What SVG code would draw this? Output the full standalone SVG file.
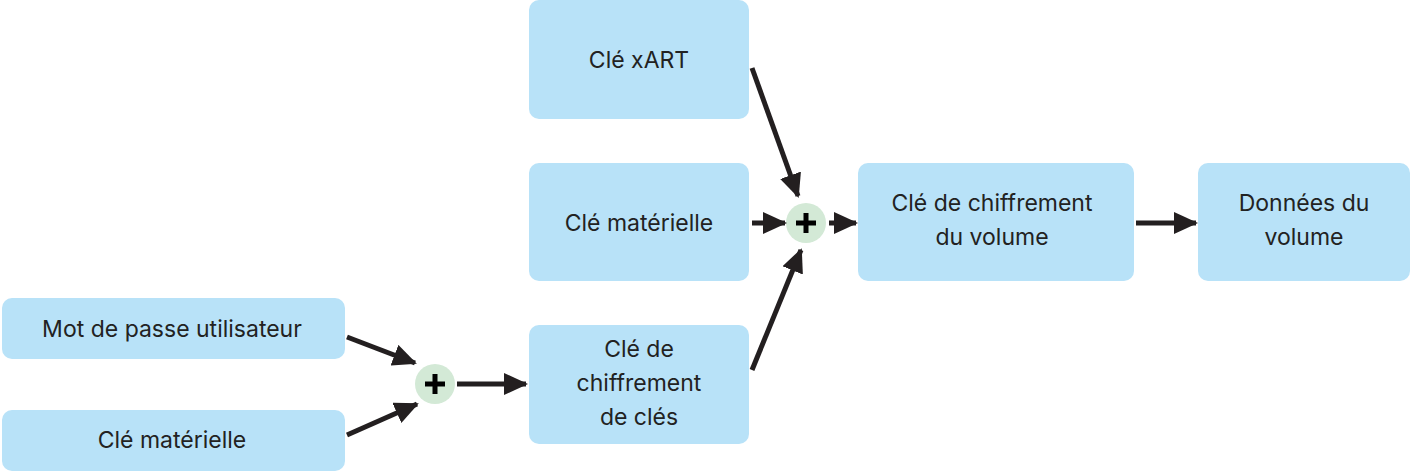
<svg xmlns="http://www.w3.org/2000/svg" width="1412" height="473" viewBox="0 0 1412 473">
<style>
.box{fill:#b8e2f8}
.op{fill:#d3e9d6}
.t{font-family:"Inter","Liberation Sans",sans-serif;font-size:23px;fill:#222;text-anchor:middle}
.c{stroke:#231f20;stroke-width:5;fill:none;marker-end:url(#ah)}
.plus{stroke:#000;stroke-width:5}
</style>
<defs>
<marker id="ah" markerUnits="userSpaceOnUse" markerWidth="24" markerHeight="22" refX="22" refY="11" orient="auto">
<path d="M0,0 L24,11 L0,22 Z" fill="#231f20"/>
</marker>
</defs>
<g id="xart"><rect class="box" x="529" y="0" width="220" height="119" rx="10"/><text class="t" x="639" y="68">Clé xART</text></g>
<g id="hw1"><rect class="box" x="529" y="163" width="220" height="118" rx="10"/><text class="t" x="639" y="231">Clé matérielle</text></g>
<g id="kek"><rect class="box" x="529" y="325" width="220" height="119" rx="10"/><text class="t" x="639" y="357">Clé de</text><text class="t" x="639" y="391">chiffrement</text><text class="t" x="639" y="425">de clés</text></g>
<g id="pwd"><rect class="box" x="2" y="298" width="343" height="61" rx="10"/><text class="t" x="172" y="337">Mot de passe utilisateur</text></g>
<g id="hw2"><rect class="box" x="2" y="410" width="343" height="61" rx="10"/><text class="t" x="172" y="448">Clé matérielle</text></g>
<g id="vek"><rect class="box" x="858" y="163" width="276" height="118" rx="10"/><text class="t" x="992" y="211">Clé de chiffrement</text><text class="t" x="992" y="245">du volume</text></g>
<g id="data"><rect class="box" x="1198" y="163" width="212" height="118" rx="10"/><text class="t" x="1304" y="211">Données du</text><text class="t" x="1304" y="245">volume</text></g>
<g id="plus1"><circle class="op" cx="806" cy="223" r="20"/><path class="plus" d="M806,213V233M796,223H816"/></g>
<g id="plus2"><circle class="op" cx="435" cy="384" r="20"/><path class="plus" d="M435,374V394M425,384H445"/></g>
<g id="connectors">
<path class="c" d="M752,68L798,196"/>
<path class="c" d="M752,223L785,223"/>
<path class="c" d="M752,370L801,250"/>
<path class="c" d="M829,223L856,223"/>
<path class="c" d="M1136,223L1196,223"/>
<path class="c" d="M347,337L415,363"/>
<path class="c" d="M347,435L417,404"/>
<path class="c" d="M457,384L526,384"/>
</g>
</svg>
